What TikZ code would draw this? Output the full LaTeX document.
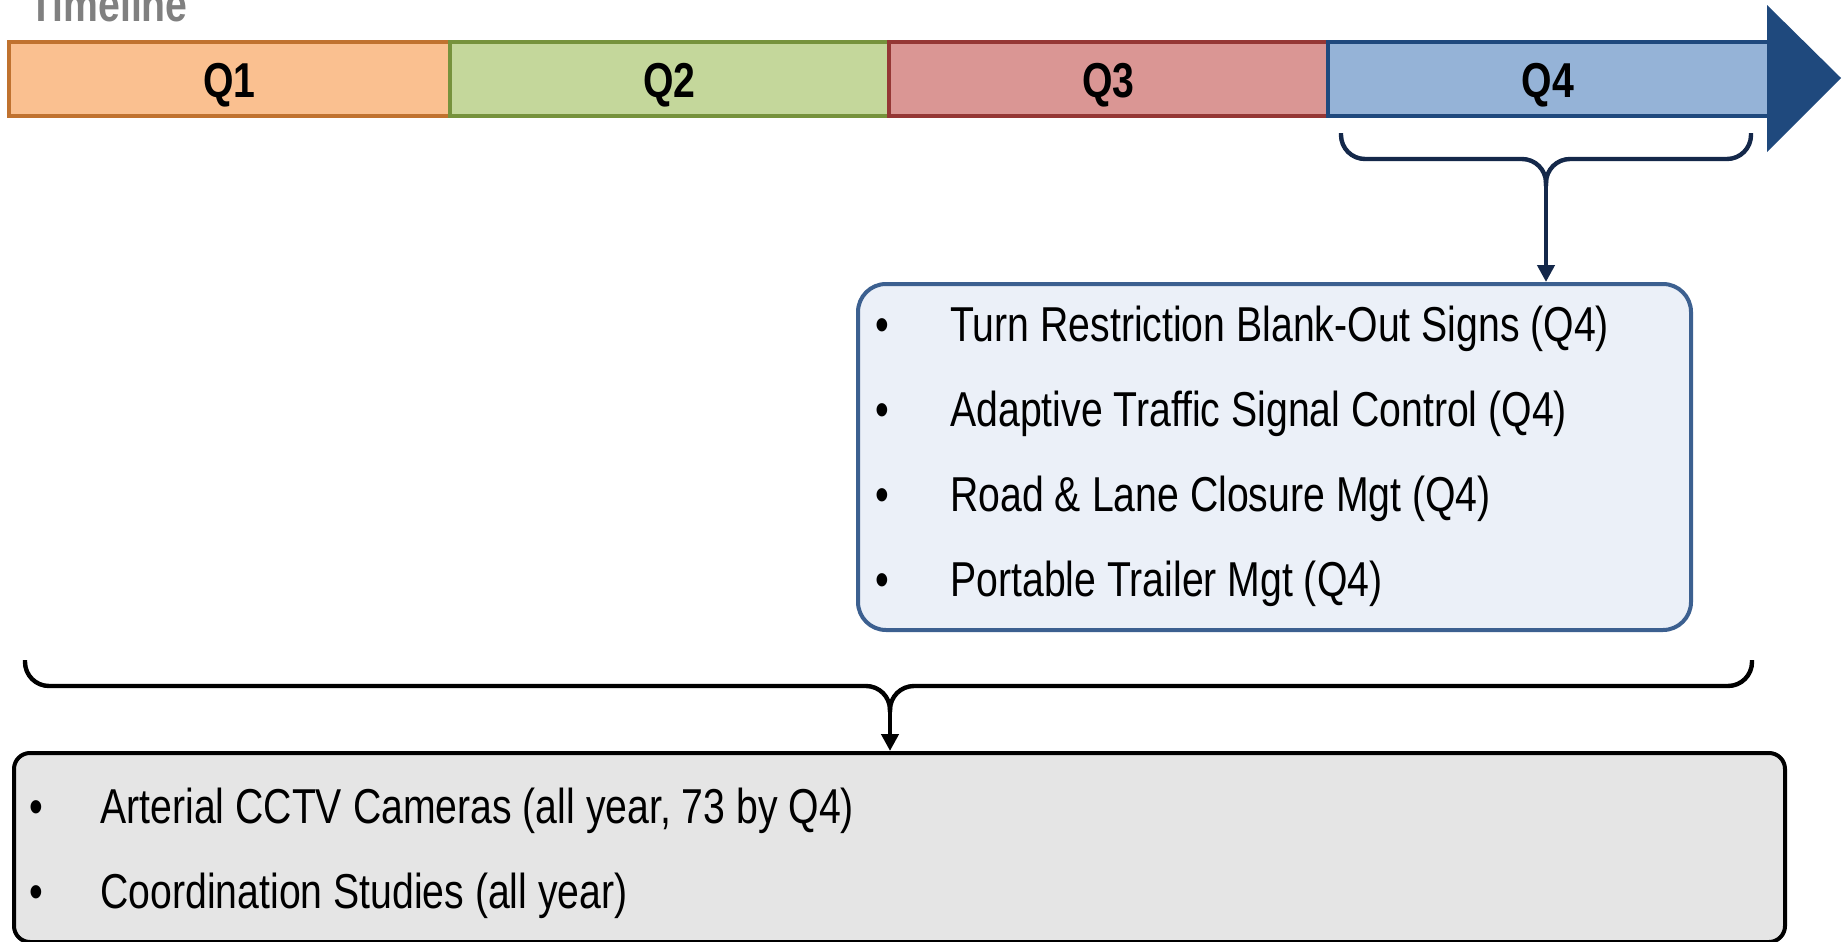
\documentclass[tikz,border=0pt]{standalone}
\usepackage{fontspec}
\setmainfont{Liberation Sans}[FakeStretch=0.8]
\usetikzlibrary{arrows.meta}
\definecolor{qonef}{HTML}{FAC090}
\definecolor{qoned}{HTML}{C0722F}
\definecolor{qtwof}{HTML}{C4D79B}
\definecolor{qtwod}{HTML}{76923C}
\definecolor{qthreef}{HTML}{DA9694}
\definecolor{qthreed}{HTML}{953735}
\definecolor{qfourf}{HTML}{95B3D7}
\definecolor{qfourd}{HTML}{1F497D}
\definecolor{navy}{HTML}{14284A}
\definecolor{boxblued}{HTML}{3C6090}
\definecolor{boxbluef}{HTML}{EBF0F8}
\definecolor{boxgrayf}{HTML}{E5E5E5}
\definecolor{tlgray}{HTML}{808080}
\begin{document}
\begin{tikzpicture}[x=0.5pt,y=-0.5pt,
  seg/.style={draw, line width=2pt, anchor=north west, inner sep=0pt, outer sep=0pt,
    minimum height=37pt, font=\fontsize{24.5}{29}\selectfont\bfseries},
  qlabel/.style={anchor=base, inner sep=0pt, font=\fontsize{24.5}{29}\selectfont\bfseries},
  listtext/.style={anchor=base west, inner sep=0pt, font=\fontsize{24.5}{29}\selectfont},
  bracepath/.style={line width=2.2pt, rounded corners=12pt},
  conn/.style={line width=2.2pt, -{Triangle[length=8.5pt,width=8.5pt]}}
]
\useasboundingbox (0,0) rectangle (1843,942);

% Timeline title
\node[anchor=base west, inner sep=0pt, text=tlgray, font=\fontsize{24.5}{29}\selectfont\bfseries] (title) at (29,21) {Timeline};

% Quarter segments
\node[seg, fill=qonef, draw=qoned, minimum width=220.5pt] (q1) at (9,42) {};
\node[seg, fill=qtwof, draw=qtwod, minimum width=219.5pt] (q2) at (450,42) {};
\node[seg, fill=qthreef, draw=qthreed, minimum width=219.5pt] (q3) at (889,42) {};
\node[seg, fill=qfourf, draw=qfourd, minimum width=220.5pt] (q4) at (1328,42) {};
\fill[qfourd] (1767,5) -- (1841,78) -- (1767,152) -- cycle;
\node[qlabel] (q1l) at (229.5,97) {Q1};
\node[qlabel] (q2l) at (669.5,97) {Q2};
\node[qlabel] (q3l) at (1108.5,97) {Q3};
\node[qlabel] (q4l) at (1548,97) {Q4};

% Q4 brace
\draw[bracepath, draw=navy] (1341,133) |- (1546,159) -- (1546,186);
\draw[bracepath, draw=navy] (1751,133) |- (1546,159) -- (1546,186);
\coordinate (q4tip) at (1546,184);

% Q4 box
\node[draw=boxblued, fill=boxbluef, line width=2pt, rounded corners=14pt,
  anchor=north west, inner sep=0pt, minimum width=416.5pt, minimum height=173pt] (q4box) at (856,282) {};
\draw[conn, draw=navy] (q4tip) -- (q4tip |- q4box.north);

\node[listtext] (b1) at (875,341) {•};
\node[listtext] (t1) at (950,341) {Turn Restriction Blank-Out Signs (Q4)};
\node[listtext] (b2) at (875,426) {•};
\node[listtext] (t2) at (950,426) {Adaptive Traffic Signal Control (Q4)};
\node[listtext] (b3) at (875,511) {•};
\node[listtext] (t3) at (950,511) {Road \& Lane Closure Mgt (Q4)};
\node[listtext] (b4) at (875,596) {•};
\node[listtext] (t4) at (950,596) {Portable Trailer Mgt (Q4)};

% all-year brace
\draw[bracepath, draw=black] (25,660) |- (890,686) -- (890,712);
\draw[bracepath, draw=black] (1752,660) |- (890,686) -- (890,712);
\coordinate (alltip) at (890,708);

% all-year box
\node[draw=black, fill=boxgrayf, line width=2pt, rounded corners=8pt,
  anchor=north west, inner sep=0pt, minimum width=885.5pt, minimum height=94.5pt] (allbox) at (12,751) {};
\draw[conn, draw=black] (alltip) -- (alltip |- allbox.north);

\node[listtext] (b5) at (29,823) {•};
\node[listtext] (t5) at (100,823) {Arterial CCTV Cameras (all year, 73 by Q4)};
\node[listtext] (b6) at (29,908) {•};
\node[listtext] (t6) at (100,908) {Coordination Studies (all year)};
\end{tikzpicture}
\end{document}
